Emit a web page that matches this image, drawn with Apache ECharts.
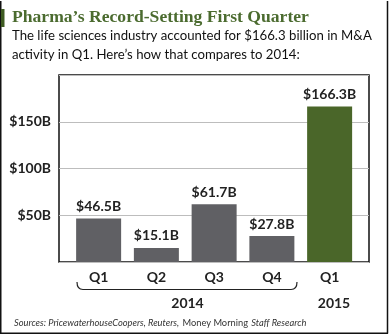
<!DOCTYPE html>
<html>
<head>
<meta charset="utf-8">
<script src="https://cdn.jsdelivr.net/npm/echarts@6/dist/echarts.min.js"></script>
<style>
  html, body { margin: 0; padding: 0; background: #fff; }
  #chart { width: 390px; height: 335px; }
</style>
</head>
<body>
<div id="chart"></div>
<script>
// Quarterly life-sciences M&A volume, billions of dollars
const quarters = ['Q1', 'Q2', 'Q3', 'Q4', 'Q1'];
const years = ['2014', '2014', '2014', '2014', '2015'];
const dealValues = [46.5, 15.1, 61.7, 27.8, 166.3];
const yTicks = [50, 100, 150];

const GREY = '#606064';
const GREEN = '#4a6629';
const SANS = 'Lato, "Noto Sans", sans-serif';

const chart = echarts.init(document.getElementById('chart'), null, { renderer: 'canvas' });

const barData = dealValues.map((v, i) => ({
  value: v,
  itemStyle: { color: years[i] === '2015' ? GREEN : GREY }
}));

const braceStyle = { fill: 'none', stroke: '#222', lineWidth: 1.2 };

chart.setOption({
  animation: false,
  backgroundColor: '#fff',
  grid: [
    // framed plot area with gridlines and value labels
    { left: 59, top: 75, width: 310, height: 187, show: true, borderColor: '#111', borderWidth: 1.5, backgroundColor: 'transparent' },
    // bar band, inset inside the frame
    { left: 69.75, top: 75, width: 288.75, height: 187 }
  ],
  xAxis: [
    { gridIndex: 0, type: 'value', show: false, min: 0, max: 1 },
    {
      gridIndex: 1, type: 'category', data: quarters,
      axisLine: { show: false }, axisTick: { show: false },
      axisLabel: { margin: 8, color: '#222', fontFamily: SANS, fontSize: 14, fontWeight: 'bold' }
    }
  ],
  yAxis: [
    {
      gridIndex: 0, type: 'value', min: 0, max: 200, interval: 50,
      axisLine: { show: false }, axisTick: { show: false },
      splitLine: { show: true, lineStyle: { color: '#bdbdbd', width: 1.2 } },
      axisLabel: {
        margin: 8, color: '#222', fontFamily: SANS, fontSize: 14, fontWeight: 'bold',
        formatter: v => (yTicks.includes(v) ? '$' + v + 'B' : '')
      }
    },
    { gridIndex: 1, type: 'value', min: 0, max: 200, show: false, splitLine: { show: false } }
  ],
  series: [{
    type: 'bar', xAxisIndex: 1, yAxisIndex: 1,
    data: barData, barWidth: 45,
    label: {
      show: true, position: 'top', distance: 5,
      color: '#222', fontFamily: SANS, fontSize: 14, fontWeight: 'bold',
      formatter: p => '$' + p.value + 'B'
    }
  }],
  graphic: [
    // outer frame edges
    { type: 'line', shape: { x1: 0.75, y1: 1, x2: 0.75, y2: 333.5 }, style: { stroke: '#111', lineWidth: 1.5 } },
    { type: 'line', shape: { x1: 387.5, y1: 1, x2: 387.5, y2: 333.5 }, style: { stroke: '#111', lineWidth: 1.5 } },
    { type: 'line', shape: { x1: 0, y1: 333.25, x2: 388, y2: 333.25 }, style: { stroke: '#111', lineWidth: 1.5 } },
    // accent bar next to the headline
    { type: 'rect', shape: { x: 1, y: 9, width: 3.5, height: 18 }, style: { fill: '#3e5b22' } },
    {
      type: 'text', x: 12, y: 17,
      style: { text: 'Pharma\u2019s Record-Setting First Quarter', fill: '#4b6b2f', font: 'bold 17.6px "Liberation Serif", serif', verticalAlign: 'middle' }
    },
    {
      type: 'text', x: 12, y: 36,
      style: { text: 'The life sciences industry accounted for $166.3 billion in M&A', fill: '#111', font: '13.2px ' + SANS, verticalAlign: 'middle' }
    },
    {
      type: 'text', x: 12, y: 55,
      style: { text: 'activity in Q1. Here\u2019s how that compares to 2014:', fill: '#111', font: '13.2px ' + SANS, verticalAlign: 'middle' }
    },
    // bracket grouping the 2014 quarters
    { type: 'bezierCurve', shape: { x1: 77, y1: 282, cpx1: 77, cpy1: 289.5, x2: 83, y2: 289.5 }, style: braceStyle },
    { type: 'line', shape: { x1: 83, y1: 289.5, x2: 291, y2: 289.5 }, style: braceStyle },
    { type: 'bezierCurve', shape: { x1: 291, y1: 289.5, cpx1: 297, cpy1: 289.5, x2: 297, y2: 282 }, style: braceStyle },
    { type: 'text', x: 187.5, y: 303, style: { text: '2014', fill: '#222', font: 'bold 14px ' + SANS, align: 'center', verticalAlign: 'middle' } },
    { type: 'text', x: 334, y: 303, style: { text: '2015', fill: '#222', font: 'bold 14px ' + SANS, align: 'center', verticalAlign: 'middle' } },
    {
      type: 'text', x: 14, y: 323,
      style: {
        text: '{i|Sources: PricewaterhouseCoopers, Reuters,} {n|Money Morning} {i|Staff Research}',
        verticalAlign: 'middle',
        rich: {
          i: { fill: '#333', fontFamily: SANS, fontStyle: 'italic', fontSize: 9.3 },
          n: { fill: '#333', fontFamily: SANS, fontSize: 9.3 }
        }
      }
    }
  ]
});
</script>
</body>
</html>
